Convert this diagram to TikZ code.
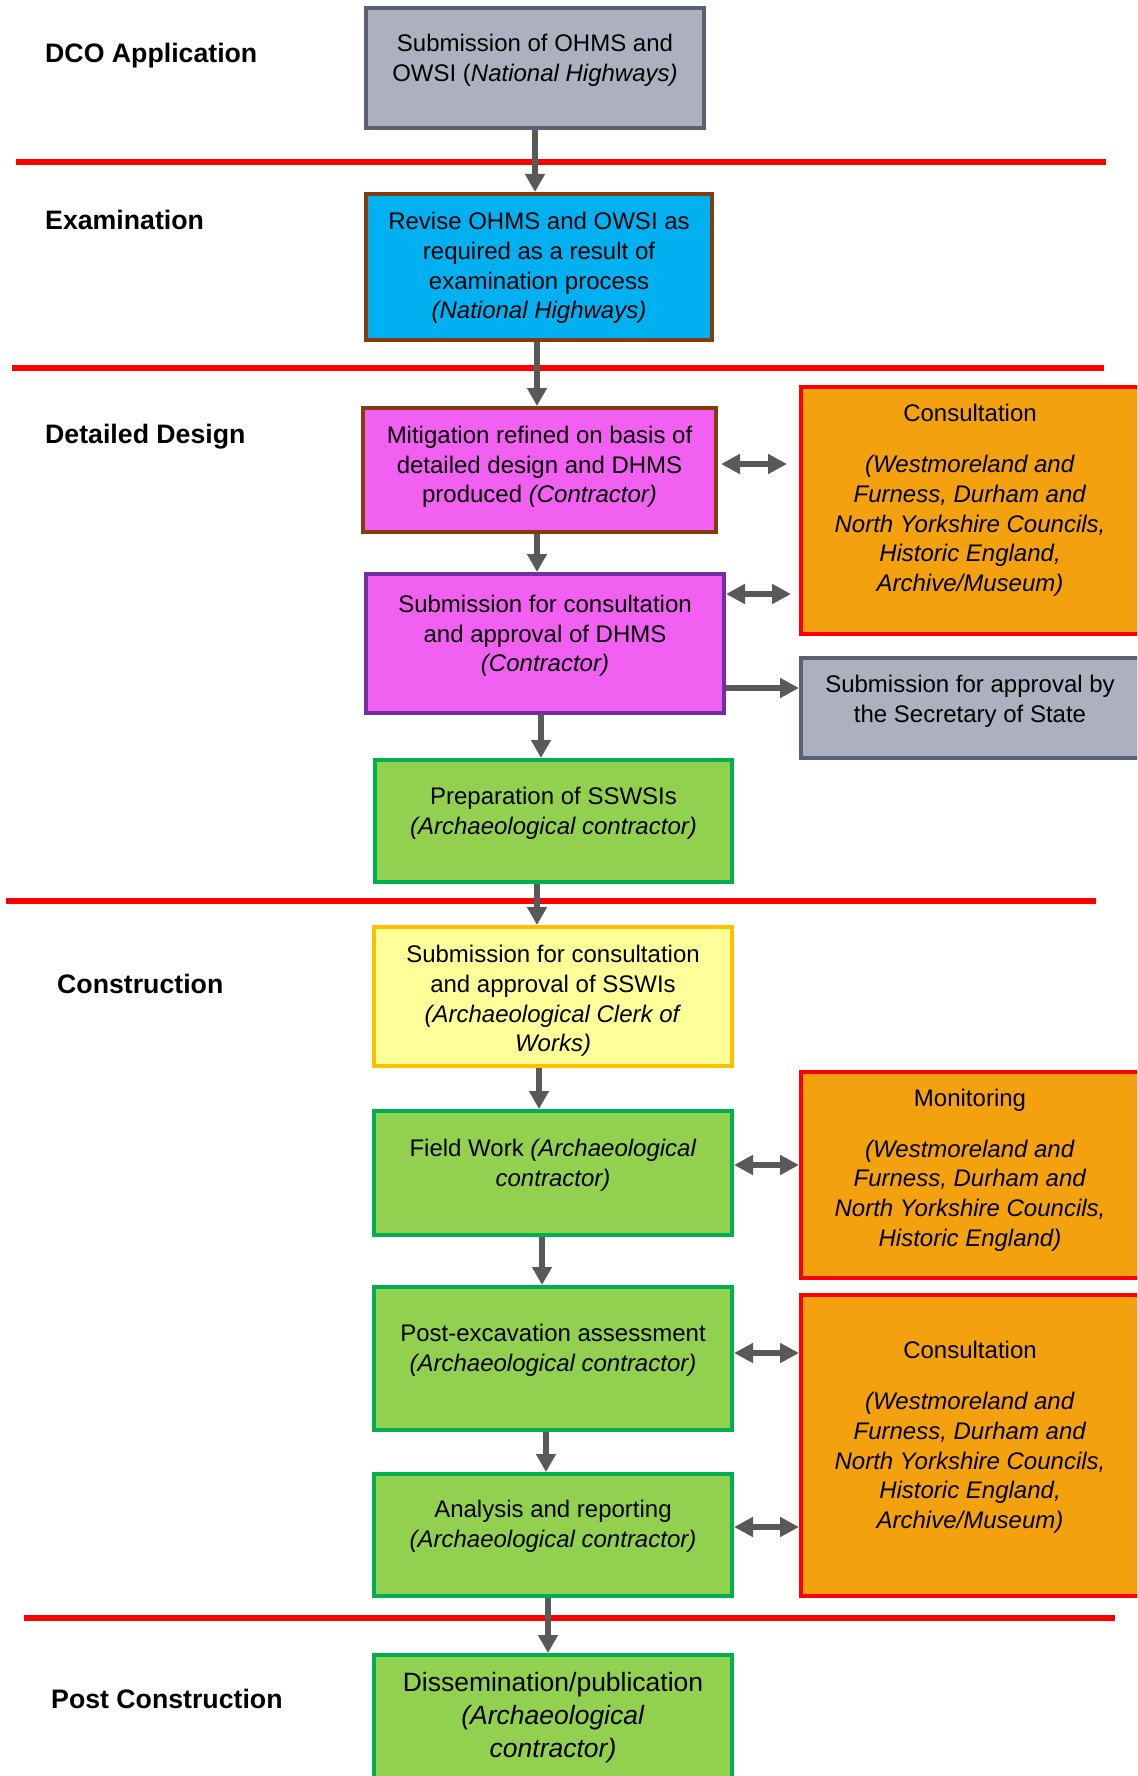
\documentclass[tikz,border=0pt]{standalone}
\usepackage{fontspec}
\setmainfont{Liberation Sans}
\usetikzlibrary{arrows.meta}
\definecolor{greyfill}{HTML}{ADB0BF}
\definecolor{greyline}{HTML}{5A6075}
\definecolor{bluefill}{HTML}{00B0F0}
\definecolor{brownline}{HTML}{843C0C}
\definecolor{magfill}{HTML}{F260F2}
\definecolor{purpline}{HTML}{7030A0}
\definecolor{greenfill}{HTML}{92D050}
\definecolor{greenline}{HTML}{00B050}
\definecolor{yellowfill}{HTML}{FFFF99}
\definecolor{yellowline}{HTML}{FFC000}
\definecolor{orangefill}{HTML}{F3A10E}
\definecolor{arrowgrey}{HTML}{595959}
\definecolor{sepred}{HTML}{FF0000}
\begin{document}
\begin{tikzpicture}[x=1pt,y=-1pt,
  box/.style={rectangle, draw, line width=4pt, anchor=north west, inner sep=0pt},
  greybox/.style={box, fill=greyfill, draw=greyline},
  bluebox/.style={box, fill=bluefill, draw=brownline},
  magbox/.style={box, fill=magfill, draw=brownline},
  magpbox/.style={box, fill=magfill, draw=purpline},
  greenbox/.style={box, fill=greenfill, draw=greenline},
  yellowbox/.style={box, fill=yellowfill, draw=yellowline},
  orangebox/.style={box, fill=orangefill, draw=sepred},
  txt/.style={align=center, inner sep=0pt, font=\fontsize{24}{29.7}\selectfont},
  bigtxt/.style={align=center, inner sep=0pt, font=\fontsize{26.5}{33}\selectfont},
  sect/.style={anchor=base west, inner sep=0pt, font=\fontsize{26.7}{32}\selectfont\bfseries},
  sepline/.style={draw=sepred, line width=6pt},
  varr/.style={draw=arrowgrey, line width=5.5pt, -{Triangle[width=19pt,length=18pt]}},
  sarr/.style={draw=arrowgrey, line width=5.5pt, -{Triangle[width=19pt,length=19pt]}},
  darr/.style={draw=arrowgrey, line width=6pt, {Triangle[width=19pt,length=19pt]}-{Triangle[width=19pt,length=19pt]}}
]
\useasboundingbox (0,0) rectangle (1137,1776);
\clip (0,0) rectangle (1137,1776);
\fill[white] (0,0) rectangle (1137,1776);

% separator lines
\draw[sepline] (16,162) -- (1106,162);
\draw[sepline] (12,368) -- (1104,368);
\draw[sepline] (6,901) -- (1096,901);
\draw[sepline] (24,1618) -- (1115,1618);

% section labels
\node[sect] (s1) at (45,63) {DCO Application};
\node[sect] (s2) at (45,230) {Examination};
\node[sect] (s3) at (45,443) {Detailed Design};
\node[sect] (s4) at (57,993) {Construction};
\node[sect] (s5) at (51,1708) {Post Construction};

% main column boxes
\node[greybox, minimum width=338pt, minimum height=120pt] (b1) at (364,6) {};
\node[bluebox, minimum width=346pt, minimum height=146pt] (b2) at (364,192) {};
\node[magbox, minimum width=353pt, minimum height=124pt] (b3) at (361,406) {};
\node[magpbox, minimum width=358pt, minimum height=139pt] (b4) at (364,572) {};
\node[greenbox, minimum width=357pt, minimum height=122pt] (b5) at (373,758) {};
\node[yellowbox, minimum width=358pt, minimum height=139pt] (b6) at (372,925) {};
\node[greenbox, minimum width=358pt, minimum height=124pt] (b7) at (372,1109) {};
\node[greenbox, minimum width=358pt, minimum height=143pt] (b8) at (372,1285) {};
\node[greenbox, minimum width=358pt, minimum height=122pt] (b9) at (372,1472) {};
\node[greenbox, minimum width=358pt, minimum height=143pt] (b10) at (372,1653) {};

% right column boxes
\node[orangebox, minimum width=338pt, minimum height=247pt] (c1) at (799,385) {};
\node[greybox, minimum width=338pt, minimum height=100pt] (sos) at (799,656) {};
\node[orangebox, minimum width=338pt, minimum height=206pt] (mon) at (799,1070) {};
\node[orangebox, minimum width=338pt, minimum height=301pt] (c2) at (799,1293) {};

% texts
\node[txt] (t1) at (535,60.5) {Submission of OHMS and\\OWSI (\textit{National Highways)}};
\node[txt] (t2) at (539,268) {Revise OHMS and OWSI as\\required as a result of\\examination process\\\textit{(National Highways)}};
\node[txt] (t3) at (539.5,467) {Mitigation refined on basis of\\detailed design and DHMS\\produced \textit{(Contractor)}};
\node[txt] (t4) at (545,636) {Submission for consultation\\and approval of DHMS\\\textit{(Contractor)}};
\node[txt] (t5) at (553.5,813) {Preparation of SSWSIs\\\textit{(Archaeological contractor)}};
\node[txt] (t6) at (553,1001) {Submission for consultation\\and approval of SSWIs\\\textit{(Archaeological Clerk of}\\\textit{Works)}};
\node[txt] (t7) at (553,1165.5) {Field Work \textit{(Archaeological}\\\textit{contractor)}};
\node[txt] (t8) at (553,1350.5) {Post-excavation assessment\\\textit{(Archaeological contractor)}};
\node[txt] (t9) at (553,1526.5) {Analysis and reporting\\\textit{(Archaeological contractor)}};
\node[bigtxt] (t10) at (553,1718) {Dissemination/publication\\\textit{(Archaeological}\\\textit{contractor)}};

\node[txt] (tc1) at (970,500.5) {Consultation\\[21pt]\textit{(Westmoreland and}\\\textit{Furness, Durham and}\\\textit{North Yorkshire Councils,}\\\textit{Historic England,}\\\textit{Archive/Museum)}};
\node[txt] (tsos) at (970,701.5) {Submission for approval by\\the Secretary of State};
\node[txt] (tmon) at (970,1170) {Monitoring\\[21pt]\textit{(Westmoreland and}\\\textit{Furness, Durham and}\\\textit{North Yorkshire Councils,}\\\textit{Historic England)}};
\node[txt] (tc2) at (970,1437.5) {Consultation\\[21pt]\textit{(Westmoreland and}\\\textit{Furness, Durham and}\\\textit{North Yorkshire Councils,}\\\textit{Historic England,}\\\textit{Archive/Museum)}};

% arrow x positions
\coordinate (a1) at (535,0);
\coordinate (a2) at (537,0);
\coordinate (a3) at (537,0);
\coordinate (a4) at (541,0);
\coordinate (a5) at (537,0);
\coordinate (a6) at (539,0);
\coordinate (a7) at (542,0);
\coordinate (a8) at (546,0);
\coordinate (a9) at (548,0);

\draw[varr] (b1.south -| a1) -- (b2.north -| a1);
\draw[varr] (b2.south -| a2) -- (b3.north -| a2);
\draw[varr] (b3.south -| a3) -- (b4.north -| a3);
\draw[varr] (b4.south -| a4) -- (b5.north -| a4);
\draw[varr] (b5.south -| a5) -- (b6.north -| a5);
\draw[varr] (b6.south -| a6) -- (b7.north -| a6);
\draw[varr] (b7.south -| a7) -- (b8.north -| a7);
\draw[varr] (b8.south -| a8) -- (b9.north -| a8);
\draw[varr] (b9.south -| a9) -- (b10.north -| a9);

% horizontal arrow y positions
\coordinate (h1) at (0,464);
\coordinate (h2) at (0,594);
\coordinate (h3) at (0,688);
\coordinate (h4) at (0,1165);
\coordinate (h5) at (0,1353);
\coordinate (h6) at (0,1527);

\draw[darr, shorten <=3pt, shorten >=12pt] (b3.east |- h1) -- (c1.west |- h1);
\draw[darr, shorten >=8pt] (b4.east |- h2) -- (c1.west |- h2);
\draw[sarr] (b4.east |- h3) -- (sos.west |- h3);
\draw[darr] (b7.east |- h4) -- (mon.west |- h4);
\draw[darr] (b8.east |- h5) -- (c2.west |- h5);
\draw[darr] (b9.east |- h6) -- (c2.west |- h6);
\end{tikzpicture}
\end{document}
